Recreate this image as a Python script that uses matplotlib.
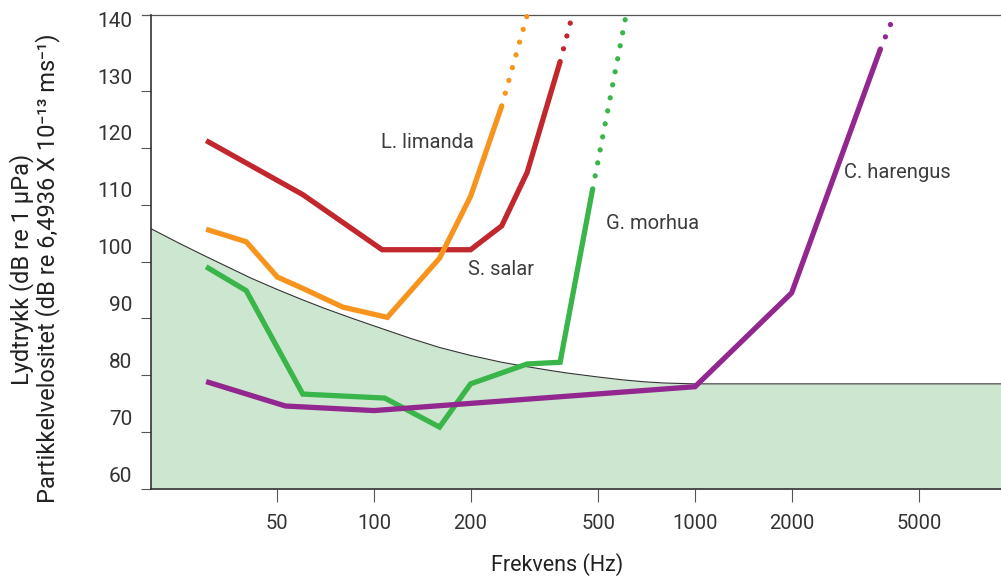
import matplotlib.pyplot as plt
import matplotlib.transforms as mtransforms
from matplotlib.lines import Line2D

# =========================
# Data
# =========================
# grensekurve (skravert område under)
boundary_freq = [20.2, 25, 30, 41.4, 50, 59.2, 70, 84.8, 100, 130, 160, 200, 250, 287,
                 350, 400, 500, 596, 700, 800, 1000, 2000, 5000, 9000]
boundary_level = [105.8, 103.1, 100.9, 97.1, 95.1, 93.4, 91.8, 90.1, 88.7, 86.5, 84.9, 83.5,
                  82.3, 81.7, 80.9, 80.4, 79.7, 79.2, 78.85, 78.65, 78.5, 78.5, 78.5, 78.5]

# rød
red_freq = [30, 60, 106, 200, 250, 300, 380]
red_level = [121.3, 111.8, 102.1, 102.1, 106.3, 115.7, 135.2]
red_ext_freq = [380, 415]
red_ext_level = [135.2, 143.4]

# oransje
orange_freq = [30, 40, 50, 60, 80, 110, 160, 200, 250]
orange_level = [105.7, 103.5, 97.3, 95.3, 92.0, 90.2, 100.6, 111.5, 127.4]
orange_ext_freq = [250, 300]
orange_ext_level = [127.4, 143.4]

# G. morhua (grønn)
green_freq = [30, 40, 60, 108, 160, 200, 300, 380, 480]
green_level = [99.1, 94.9, 76.7, 76.0, 70.9, 78.5, 82.0, 82.3, 112.8]
green_ext_freq = [480, 610]
green_ext_level = [112.8, 143.4]

# C. harengus (lilla)
purple_freq = [30, 53, 100, 1000, 2000, 3780]
purple_level = [78.9, 74.6, 73.8, 78.0, 94.5, 137.4]
purple_ext_freq = [3780, 4180]
purple_ext_level = [137.4, 143.4]

xticks = [50, 100, 200, 500, 1000, 2000, 5000]
yticks = [60, 70, 80, 90, 100, 110, 120, 130, 140]

labels = ["L. limanda", "S. salar", "G. morhua", "C. harengus"]
label_pos = [(105, 120.9), (196, 98.6), (528, 106.7), (2910, 115.6)]

RED = "#c1272d"
ORANGE = "#f7941d"
GREEN = "#39b54a"
PURPLE = "#92278f"
FILL = "#cde6cf"
TEXT = "#3c3c3c"

plt.rcParams["font.family"] = ["Roboto", "DejaVu Sans"]

fig = plt.figure(figsize=(10.01, 5.76), dpi=100)
ax = fig.add_axes([151 / 1001, 87 / 576, 850 / 1001, 474 / 576])

ax.set_xscale("log")
ax.set_xlim(20.2, 8980)
ax.set_ylim(60, 143.4)

# skravert område
ax.fill_between(boundary_freq, 60, boundary_level, color=FILL, lw=0, zorder=1)
ax.plot(boundary_freq, boundary_level, color="#333333", lw=0.8, zorder=2)

lw = 3.8
dots = (0, (0.01, 2.5))
for f, v, fe, ve, c in [
    (red_freq, red_level, red_ext_freq, red_ext_level, RED),
    (orange_freq, orange_level, orange_ext_freq, orange_ext_level, ORANGE),
    (green_freq, green_level, green_ext_freq, green_ext_level, GREEN),
    (purple_freq, purple_level, purple_ext_freq, purple_ext_level, PURPLE),
]:
    ax.plot(f, v, color=c, lw=lw, solid_capstyle="butt", solid_joinstyle="miter", zorder=3)
    ax.plot(fe, ve, color=c, lw=lw, linestyle=dots, dash_capstyle="round", zorder=3, clip_on=False)

for txt, (x, y) in zip(labels, label_pos):
    ax.text(x, y, txt, fontsize=14.5, color=TEXT, ha="left", va="center")

# akser
ax.spines["right"].set_visible(False)
ax.spines["top"].set_visible(False)
ax.spines["left"].set_color("#333333")
ax.spines["left"].set_linewidth(1.2)
ax.spines["bottom"].set_color("#333333")
ax.spines["bottom"].set_linewidth(1.2)
ax.add_line(Line2D([-9 / 850, 1], [1, 1], transform=ax.transAxes, color="#555555",
                   lw=0.9, clip_on=False))

ax.set_xticks(xticks)
ax.set_xticklabels([str(t) for t in xticks])
ax.xaxis.set_minor_locator(plt.NullLocator())
ax.tick_params(axis="x", direction="out", length=9.4, width=0.8, color="#555555",
               pad=8.5, labelsize=14.5, labelcolor="#333333")

ax.set_yticks(yticks)
ax.set_yticklabels([str(t) for t in yticks])
ax.tick_params(axis="y", direction="out", length=7, width=0.8, color="#555555",
               pad=6.5, labelsize=15, labelcolor="#333333")
ax.yaxis.get_major_ticks()[-1].tick1line.set_visible(False)

# tallene står litt over streken
offset = mtransforms.ScaledTranslation(0, 0.15, fig.dpi_scale_trans)
for lab in ax.get_yticklabels():
    lab.set_transform(lab.get_transform() + offset)

ax.set_xlabel("Frekvens (Hz)", fontsize=15.5, color="#222222", labelpad=14)
ax.xaxis.set_label_coords(0.478, -0.135)
fig.text(22 / 1001, 1 - 269 / 576, "Lydtrykk (dB re 1 µPa)", rotation=90,
         ha="center", va="center", fontsize=17, color="#222222")
fig.text(48 / 1001, 1 - 268 / 576,
         "Partikkelvelositet (dB re 6,4936 X 10⁻¹³ ms⁻¹)", rotation=90,
         ha="center", va="center", fontsize=17, color="#222222")

fig.savefig("out.png", dpi=100)
